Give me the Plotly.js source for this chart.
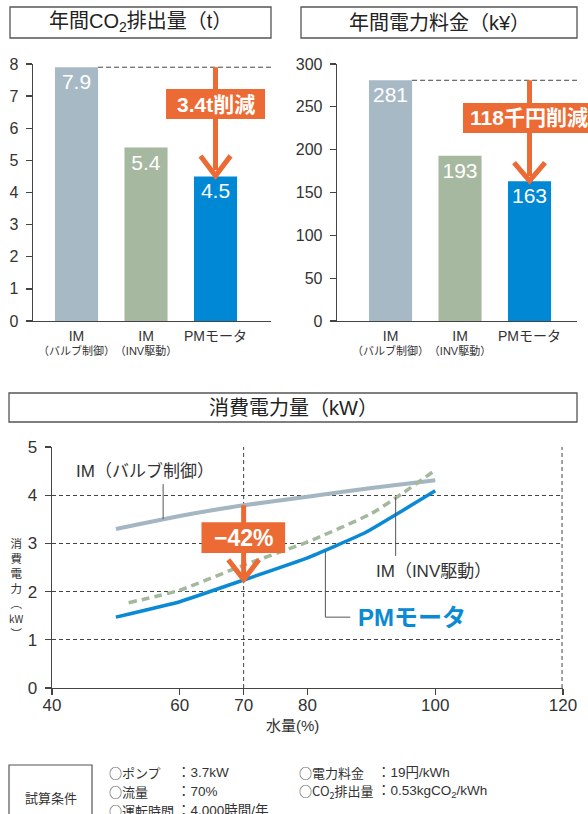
<!DOCTYPE html>
<html><head><meta charset="utf-8">
<script src="https://cdn.plot.ly/plotly-3.0.1.min.js"></script>
<style>html,body{margin:0;padding:0;background:#fff;}#chart{width:588px;height:814px;}</style>
</head><body><div id="chart"></div>
<script>
// ---- data ----
const categories = ['IM（バルブ制御）', 'IM（INV駆動）', 'PMモータ'];
const tickLabels = ['<span style="font-size:14px">IM</span><br>（バルブ制御）',
                    '<span style="font-size:14px">IM</span><br>（INV駆動）',
                    '<span style="font-size:14px">PMモータ</span>'];
const co2Values = [7.9, 5.4, 4.5];
const costValues = [281, 193, 163];
const co2Ticks = [0, 1, 2, 3, 4, 5, 6, 7, 8];
const costTicks = [0, 50, 100, 150, 200, 250, 300];
const co2Reduction = '3.4t削減';
const costReduction = '118千円削減';
const flowValve = [50, 60, 70, 80, 90, 100];
const powerValve = [3.30, 3.57, 3.79, 3.97, 4.15, 4.31];
const flowInv = [52, 60, 70, 80, 90, 95, 100];
const powerInv = [1.77, 2.03, 2.55, 3.03, 3.62, 4.05, 4.52];
const flowPm = [50, 60, 70, 80, 89, 100];
const powerPm = [1.47, 1.79, 2.24, 2.70, 3.22, 4.09];
const flowTicks = [40, 60, 70, 80, 100, 120];
const powerTicks = [0, 1, 2, 3, 4, 5];
const powerReduction = '−42%';
const conditionsLeft = [['○ポンプ', '：3.7kW'], ['○流量', '：70%'], ['○運転時間', '：4,000時間/年']];
const conditionsRight = [['○電力料金', '：19円/kWh'], ['○CO<sub>2</sub>排出量', '：0.53kgCO<sub>2</sub>/kWh']];

// ---- style ----
const W = 588, H = 814;
const px = x => x / W, py = y => 1 - y / H;
const FONT = 'Liberation Sans, "Noto Sans CJK JP", sans-serif';
const FONT_CJK = '"Noto Sans CJK JP", Liberation Sans, sans-serif';
const TXT = '#333';
const ORANGE = '#ec6b34';
const barColors = ['#a7b9c5', '#a7b8a0', '#0088d4'];
const idx = categories.map((c, i) => i);

const traces = [
  {type: 'bar', x: idx, y: co2Values, xaxis: 'x', yaxis: 'y', width: 0.62,
   marker: {color: barColors}, text: co2Values.map(v => v.toFixed(1)), textposition: 'inside',
   insidetextanchor: 'end', constraintext: 'none',
   textfont: {color: '#fff', size: 21, family: FONT}, hoverinfo: 'none'},
  {type: 'bar', x: idx, y: costValues, xaxis: 'x2', yaxis: 'y2', width: 0.62,
   marker: {color: barColors}, text: costValues.map(v => String(v)), textposition: 'inside',
   insidetextanchor: 'end', constraintext: 'none',
   textfont: {color: '#fff', size: 21, family: FONT}, hoverinfo: 'none'},
  {type: 'scatter', mode: 'lines', x: flowValve, y: powerValve, xaxis: 'x3', yaxis: 'y3',
   line: {color: '#a3b6c2', width: 4, shape: 'spline', smoothing: 0.6}},
  {type: 'scatter', mode: 'lines', x: flowInv, y: powerInv, xaxis: 'x3', yaxis: 'y3',
   line: {color: '#a3b89c', width: 3.5, dash: '8px,5px', shape: 'spline', smoothing: 0.6}},
  {type: 'scatter', mode: 'lines', x: flowPm, y: powerPm, xaxis: 'x3', yaxis: 'y3',
   line: {color: '#0a8ad4', width: 3.5, shape: 'spline', smoothing: 0.3}}
];

const baseY = {showline: true, linecolor: '#444', linewidth: 1.3, ticks: 'outside', ticklen: 6,
  tickcolor: '#444', tickwidth: 1.3, showgrid: false, zeroline: false, fixedrange: true,
  tickfont: {family: FONT, size: 16, color: TXT}, ticklabelstandoff: 4};
const baseXcat = {showline: true, linecolor: '#444', linewidth: 1.3, ticks: '', showgrid: false,
  zeroline: false, tickvals: idx, ticktext: tickLabels, tickangle: 0,
  tickfont: {family: FONT, size: 11, color: TXT}, ticklabelstandoff: 5};

const layout = {
  width: W, height: H, margin: {l: 0, r: 0, t: 0, b: 0}, showlegend: false,
  paper_bgcolor: '#fff', plot_bgcolor: 'rgba(0,0,0,0)', font: {family: FONT, color: TXT},
  xaxis: Object.assign({}, baseXcat, {domain: [px(33), px(271)], range: [-0.626, 2.798], anchor: 'y'}),
  yaxis: Object.assign({}, baseY, {domain: [py(321), py(64)], range: [0, 8], tickvals: co2Ticks, anchor: 'x'}),
  xaxis2: Object.assign({}, baseXcat, {domain: [px(337), px(577)], range: [-0.77, 2.683], anchor: 'y2'}),
  yaxis2: Object.assign({}, baseY, {domain: [py(321), py(64)], range: [0, 300], tickvals: costTicks, anchor: 'x2'}),
  xaxis3: Object.assign({}, baseY, {domain: [px(52), px(563)], range: [40, 120], tickvals: flowTicks,
    tickfont: {family: FONT, size: 17, color: TXT}, anchor: 'y3', ticklabelstandoff: -5}),
  yaxis3: Object.assign({}, baseY, {domain: [py(688), py(447)], range: [0, 5], tickvals: powerTicks,
    tickfont: {family: FONT, size: 17, color: TXT}, anchor: 'x3',
    showgrid: true, gridcolor: '#444', gridwidth: 1, griddash: '4px,3px'}),
  shapes: [], annotations: []
};
const S = layout.shapes, A = layout.annotations;
function ann(o) {
  A.push(Object.assign({showarrow: false, xanchor: 'center', yanchor: 'middle'}, o));
}

// title boxes
function titleBox(x0, x1, y0, y1, text) {
  S.push({type: 'rect', xref: 'paper', yref: 'paper', x0: px(x0), x1: px(x1), y0: py(y1), y1: py(y0),
    line: {color: '#555', width: 1.3}, fillcolor: 'rgba(0,0,0,0)'});
  ann({xref: 'paper', yref: 'paper', x: px((x0 + x1) / 2), y: py((y0 + y1) / 2 + 0.5), text: text,
    font: {family: FONT, size: 20, color: '#222'}});
}
titleBox(10, 271, 7, 38, '年間CO<sub>2</sub>排出量（t）');
titleBox(301, 577, 7, 38, '年間電力料金（k¥）');
titleBox(9, 577, 393, 422, '消費電力量（kW）');

// chart 1 reduction arrow
S.push({type: 'line', xref: 'x', yref: 'y', x0: idx[0] + 0.31, x1: 2.798, y0: co2Values[0], y1: co2Values[0],
  line: {color: '#444', width: 1, dash: '5px,3px'}});
S.push({type: 'line', xref: 'x', yref: 'y', x0: idx[2], x1: idx[2], y0: co2Values[0], y1: co2Values[2] + 0.2,
  line: {color: ORANGE, width: 5}});
S.push({type: 'path', xref: 'x', yref: 'y',
  path: `M ${idx[2] - 0.216},${co2Values[2] + 0.64} L ${idx[2]},${co2Values[2] + 0.02} L ${idx[2] + 0.216},${co2Values[2] + 0.64}`,
  line: {color: ORANGE, width: 5}});
S.push({type: 'rect', xref: 'x', yref: 'y', x0: 1.288, x1: 2.712, y0: 6.29, y1: 7.22, fillcolor: ORANGE, line: {width: 0}});
ann({xref: 'x', yref: 'y', x: idx[2], y: 6.75, text: '<b>' + co2Reduction + '</b>',
  font: {family: FONT, size: 21, color: '#fff'}});

// chart 2 reduction arrow
S.push({type: 'line', xref: 'x2', yref: 'y2', x0: idx[0] + 0.31, x1: 2.683, y0: costValues[0], y1: costValues[0],
  line: {color: '#444', width: 1, dash: '5px,3px'}});
S.push({type: 'line', xref: 'x2', yref: 'y2', x0: idx[2], x1: idx[2], y0: costValues[0], y1: costValues[2] + 6,
  line: {color: ORANGE, width: 5}});
S.push({type: 'path', xref: 'x2', yref: 'y2',
  path: `M ${idx[2] - 0.223},${costValues[2] + 22} L ${idx[2]},${costValues[2] + 0.5} L ${idx[2] + 0.223},${costValues[2] + 22}`,
  line: {color: ORANGE, width: 5}});
S.push({type: 'rect', xref: 'paper', yref: 'y2', x0: px(463), x1: 1.02, y0: 219.5, y1: 254.5, fillcolor: ORANGE, line: {width: 0}});
ann({xref: 'paper', yref: 'y2', x: px(529), y: 237, text: '<b>' + costReduction + '</b>',
  font: {family: FONT, size: 21, color: '#fff'}});

// chart 3 grid verticals
[70, 119.85].forEach(v => S.push({type: 'line', xref: 'x3', yref: 'y3', x0: v, x1: v, y0: 0, y1: 5, layer: 'below',
  line: {color: '#444', width: 1, dash: '4px,3px'}}));
// leader lines
const LEAD = {color: '#555', width: 1};
S.push({type: 'line', xref: 'x3', yref: 'y3', x0: 57.4, x1: 57.4, y0: 4.23, y1: 3.50, line: LEAD});
S.push({type: 'line', xref: 'x3', yref: 'y3', x0: 93.8, x1: 93.8, y0: 3.96, y1: 2.74, line: LEAD});
S.push({type: 'path', xref: 'x3', yref: 'y3', path: 'M 82.8,2.84 L 82.8,1.47 L 86.7,1.47', line: LEAD});
ann({xref: 'x3', yref: 'y3', x: 54.5, y: 4.50, text: 'IM（バルブ制御）',
  font: {family: FONT, size: 17, color: TXT}});
ann({xref: 'x3', yref: 'y3', x: 99.8, y: 2.41, text: 'IM（INV駆動）',
  font: {family: FONT, size: 17, color: TXT}});
ann({xref: 'x3', yref: 'y3', x: 87.6, y: 1.47, xanchor: 'left', text: '<b>PMモータ</b>',
  font: {family: FONT, size: 24, color: '#0a8ad4'}});
// reduction arrow
S.push({type: 'line', xref: 'x3', yref: 'y3', x0: 70, x1: 70, y0: powerValve[2], y1: powerPm[2] + 0.08,
  line: {color: ORANGE, width: 5}});
S.push({type: 'path', xref: 'x3', yref: 'y3', path: `M 67.6,${powerPm[2] + 0.42} L 70,${powerPm[2] + 0.01} L 72.4,${powerPm[2] + 0.42}`,
  line: {color: ORANGE, width: 5}});
S.push({type: 'rect', xref: 'x3', yref: 'y3', x0: 63.4, x1: 76.5, y0: 2.80, y1: 3.44, fillcolor: ORANGE, line: {width: 0}});
ann({xref: 'x3', yref: 'y3', x: 70, y: 3.12, text: '<b>' + powerReduction + '</b>',
  font: {family: FONT, size: 23, color: '#fff'}});
// axis titles
ann({xref: 'paper', yref: 'paper', x: px(292), y: py(725), text: '水量(%)',
  font: {family: FONT, size: 15, color: TXT}});
ann({xref: 'paper', yref: 'paper', x: px(16), y: py(533), yanchor: 'top',
  text: '消<br>費<br>電<br>力<br>︵<br><span style="font-size:10px">kW</span><br>︶',
  font: {family: FONT_CJK, size: 11.5, color: TXT}});

// conditions box
S.push({type: 'rect', xref: 'paper', yref: 'paper', x0: px(9), x1: px(92), y0: -0.05, y1: py(765),
  line: {color: '#555', width: 1.2}, fillcolor: 'rgba(0,0,0,0)'});
ann({xref: 'paper', yref: 'paper', x: px(51), y: py(797), text: '試算条件',
  font: {family: FONT_CJK, size: 13, color: TXT}});
const rowY = [772, 791, 810];
conditionsLeft.forEach((r, i) => {
  ann({xref: 'paper', yref: 'paper', x: px(107), y: py(rowY[i]), xanchor: 'left', text: r[0],
    font: {family: FONT_CJK, size: 13, color: TXT}});
  ann({xref: 'paper', yref: 'paper', x: px(175), y: py(rowY[i]), xanchor: 'left', text: r[1],
    font: {family: FONT, size: 13.5, color: TXT}});
});
conditionsRight.forEach((r, i) => {
  ann({xref: 'paper', yref: 'paper', x: px(297), y: py(rowY[i]), xanchor: 'left', text: r[0],
    font: {family: FONT_CJK, size: 13, color: TXT}});
  ann({xref: 'paper', yref: 'paper', x: px(375), y: py(rowY[i]), xanchor: 'left', text: r[1],
    font: {family: FONT, size: 13.5, color: TXT}});
});

Plotly.newPlot('chart', traces, layout, {staticPlot: true, displayModeBar: false});
</script></body></html>
